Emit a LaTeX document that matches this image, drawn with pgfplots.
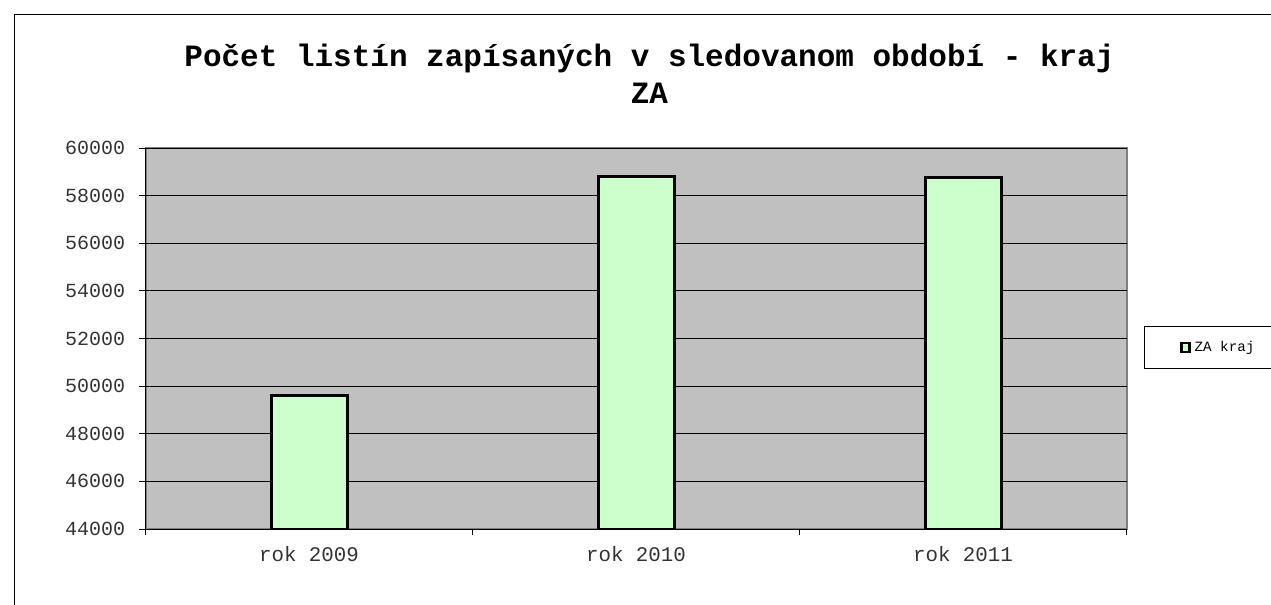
\documentclass[border=0pt]{standalone}
\usepackage{fontspec}
\setmonofont{Liberation Mono}
\usepackage{pgfplots}
\pgfplotsset{compat=1.18}
\definecolor{silver}{HTML}{C0C0C0}
\definecolor{barfill}{HTML}{CCFFCC}
\definecolor{frame}{HTML}{808080}

\begin{document}
\begin{tikzpicture}
\path[use as bounding box] (0,0) rectangle (635.5pt,-302.5pt);
\clip (0,0) rectangle (635.5pt,-302.5pt);
% chart area border (cut at right and bottom)
\draw[line width=0.5pt] (7.3pt,-320pt) -- (7.3pt,-7.3pt) -- (660pt,-7.3pt);
\node[font=\fontsize{15.5}{18.3}\selectfont\bfseries\ttfamily, align=center, anchor=base, inner sep=0pt]
  at (324.75pt,-51.65pt) {Počet listín zapísaných v sledovanom období - kraj\\ZA};

\begin{axis}[at={(72.75pt,-264.5pt)}, anchor=south west,
 scale only axis, width=490.5pt, height=190.5pt,
 ybar, bar width=38pt,
 xmin=-0.5, xmax=2.5, ymin=44000, ymax=60000,
 ytick={44000,46000,...,60000},
 scaled y ticks=false,
 xtick={0,1,2}, xticklabels={rok 2009,rok 2010,rok 2011},
 minor xtick={-0.5,0.5,1.5,2.5},
 major x tick style={draw=none},
 axis lines*=left, axis line style={-, black, line width=0.5pt},
 axis background/.style={fill=silver, draw=frame, line width=1pt},
 tick align=outside, major tick length=3pt, minor tick length=3pt,
 tick style={black, line width=0.5pt},
 ymajorgrids, grid style={black, line width=0.5pt},
 /pgf/number format/1000 sep={}, /pgf/number format/fixed,
 /pgf/number format/assume math mode=true,
 yticklabel style={font=\fontsize{10}{12}\selectfont\ttfamily, text=black!80, xshift=-3.6pt},
 xticklabel style={font=\fontsize{10.4}{12}\selectfont\ttfamily, text=black!80, yshift=-2pt},
 legend style={at={(1.0178,0.4764)}, anchor=west, draw=black, line width=0.5pt, fill=white,
   font=\fontsize{7.1}{8.5}\selectfont\ttfamily, inner xsep=18pt, inner ysep=5pt},
 legend image code/.code={\draw[fill=barfill, draw=black, line width=1.1pt] (0pt,-2.4pt) rectangle (4pt,2.4pt);},
]
\addplot[fill=barfill, draw=black, line width=1.5pt] coordinates {(0,49600) (1,58800) (2,58780)};
\addlegendentry{ZA kraj}
\end{axis}
\end{tikzpicture}
\end{document}
